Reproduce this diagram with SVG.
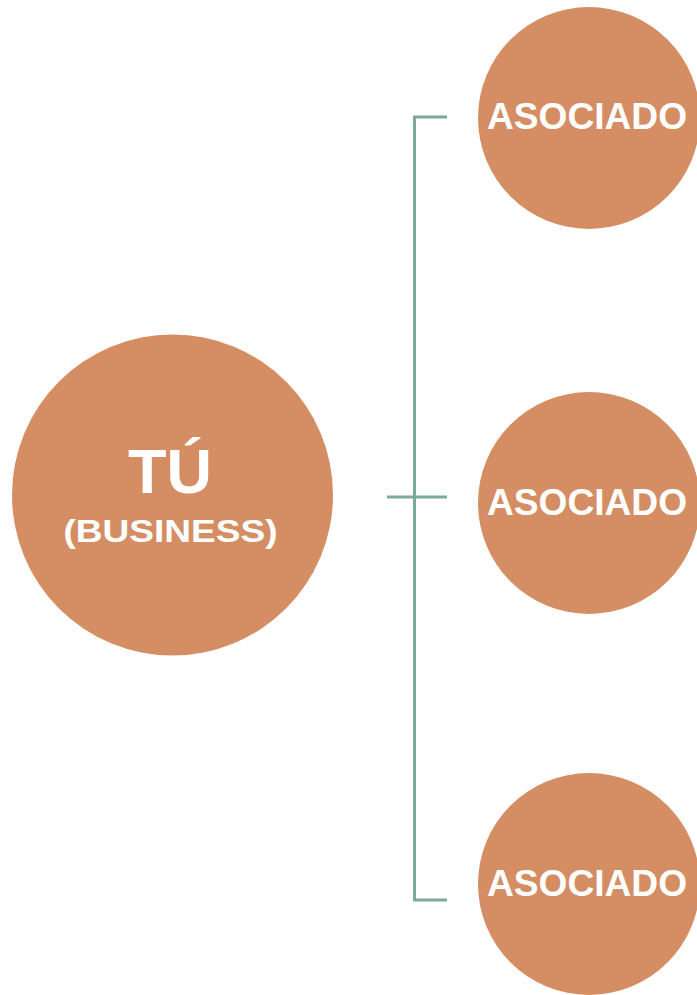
<svg xmlns="http://www.w3.org/2000/svg" width="697" height="995" viewBox="0 0 697 995">
<style>
.c{fill:#D58E63}
.t{fill:#fff;font-family:"Liberation Sans",Arial,sans-serif;font-weight:bold;text-anchor:middle}
.l{stroke:#7BA99A;stroke-width:3;fill:none}
</style>
<rect width="697" height="995" fill="#fff"/>
<g id="connectors">
<polyline class="l" points="447,117 414.5,117 414.5,900 447,900"/>
<line class="l" x1="387" y1="497" x2="447" y2="497"/>
</g>
<g id="main">
<circle class="c" cx="172.5" cy="495" r="160.5"/>
<text class="t" x="170" y="493" font-size="63">TÚ</text>
<text class="t" x="170.5" y="542" font-size="31" textLength="214" lengthAdjust="spacingAndGlyphs">(BUSINESS)</text>
</g>
<g id="asociado1">
<circle class="c" cx="589" cy="118" r="111"/>
<text class="t" x="587" y="129" font-size="36" textLength="200" lengthAdjust="spacingAndGlyphs">ASOCIADO</text>
</g>
<g id="asociado2">
<circle class="c" cx="589" cy="503" r="111"/>
<text class="t" x="587" y="515" font-size="36" textLength="200" lengthAdjust="spacingAndGlyphs">ASOCIADO</text>
</g>
<g id="asociado3">
<circle class="c" cx="589" cy="884" r="111"/>
<text class="t" x="587" y="896" font-size="36" textLength="200" lengthAdjust="spacingAndGlyphs">ASOCIADO</text>
</g>
</svg>
